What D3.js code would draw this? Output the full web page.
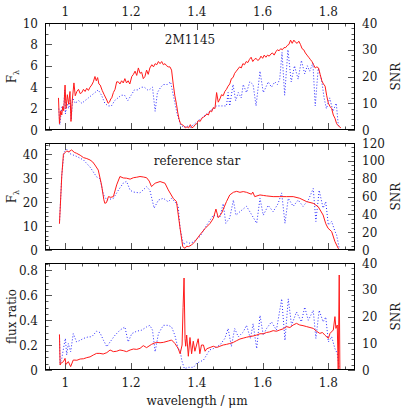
<!DOCTYPE html>
<html>
<head>
<meta charset="utf-8">
<script src="https://cdn.jsdelivr.net/npm/d3@7"></script>
<style>
  body { margin: 0; background: #fff; }
  text { font-family: "DejaVu Serif", serif; font-size: 12px; fill: #1a1a1a; }
</style>
</head>
<body>
<div id="chart"></div>
<script>
// wavelength ticks (micron)
var xMajor = [1, 1.2, 1.4, 1.6, 1.8];

// 2M1145: flux (F_lambda) and SNR
var topFlux = [[0.979,3.0],[0.982,0.6],[0.986,1.8],[0.989,1.4],[0.992,2.2],[0.995,1.8],[0.999,4.2],[1.002,2.0],[1.006,3.3],[1.010,2.4],[1.014,3.6],[1.017,0.8],[1.021,2.8],[1.026,4.4],[1.030,3.2],[1.035,3.6],[1.040,3.8],[1.045,3.4],[1.050,3.5],[1.055,3.8],[1.060,3.6],[1.065,3.9],[1.070,3.7],[1.075,4.0],[1.080,4.2],[1.085,4.5],[1.090,5.0],[1.094,4.6],[1.098,4.9],[1.102,4.3],[1.106,4.2],[1.112,3.7],[1.118,3.3],[1.126,2.8],[1.130,2.5],[1.134,2.6],[1.138,2.9],[1.141,3.0],[1.146,3.5],[1.151,3.8],[1.156,4.5],[1.161,4.5],[1.166,4.3],[1.171,4.6],[1.176,4.4],[1.181,4.8],[1.186,4.4],[1.191,4.6],[1.196,4.3],[1.202,5.0],[1.207,5.2],[1.212,5.5],[1.217,5.1],[1.222,5.8],[1.227,5.3],[1.232,5.4],[1.237,4.8],[1.242,5.0],[1.247,5.6],[1.252,5.2],[1.257,5.8],[1.263,6.1],[1.268,5.9],[1.273,6.2],[1.278,6.1],[1.283,6.4],[1.288,6.2],[1.293,6.4],[1.298,6.1],[1.303,6.2],[1.308,6.0],[1.313,5.9],[1.318,5.9],[1.323,5.6],[1.328,4.3],[1.333,3.2],[1.338,2.4],[1.342,1.6],[1.346,1.0],[1.350,0.6],[1.355,0.5],[1.360,0.4],[1.365,0.2],[1.370,0.3],[1.375,0.2],[1.380,0.5],[1.385,0.2],[1.390,0.3],[1.395,0.5],[1.400,0.6],[1.405,0.9],[1.410,0.8],[1.415,1.1],[1.420,1.2],[1.425,1.3],[1.430,1.5],[1.435,1.4],[1.440,1.8],[1.445,1.7],[1.450,2.1],[1.455,2.0],[1.460,3.5],[1.465,2.6],[1.470,2.9],[1.475,3.3],[1.480,3.2],[1.485,3.6],[1.490,3.8],[1.495,4.1],[1.500,4.3],[1.505,4.8],[1.510,4.9],[1.515,5.3],[1.520,5.5],[1.525,5.7],[1.530,5.9],[1.535,5.8],[1.540,6.2],[1.545,6.1],[1.550,6.4],[1.555,6.3],[1.560,6.6],[1.565,6.8],[1.570,6.4],[1.575,6.6],[1.580,6.7],[1.585,6.5],[1.590,6.6],[1.595,6.9],[1.600,6.7],[1.605,7.0],[1.610,6.8],[1.615,7.0],[1.620,6.9],[1.625,7.1],[1.630,7.2],[1.635,7.0],[1.640,7.3],[1.645,7.5],[1.650,7.4],[1.655,7.6],[1.660,7.5],[1.665,7.7],[1.670,7.7],[1.675,7.9],[1.680,8.0],[1.685,8.4],[1.690,8.1],[1.695,8.4],[1.700,8.2],[1.705,8.1],[1.710,8.3],[1.715,8.0],[1.720,7.6],[1.725,7.5],[1.730,7.2],[1.735,7.0],[1.740,6.8],[1.745,6.6],[1.750,6.4],[1.755,6.1],[1.760,5.8],[1.765,5.9],[1.770,5.8],[1.775,5.2],[1.780,4.6],[1.785,4.3],[1.790,4.1],[1.795,3.2],[1.800,2.5],[1.805,2.2],[1.810,2.0],[1.815,1.4],[1.820,1.1],[1.825,0.6],[1.830,0.4],[1.838,0.2]];
var topSnr = [[0.980,8],[0.983,2],[0.987,6],[0.990,9],[0.995,8],[0.998,15],[1.000,6],[1.005,10],[1.010,8],[1.015,11],[1.018,4],[1.022,12],[1.030,10],[1.040,11],[1.050,10],[1.060,11],[1.070,12],[1.080,13],[1.090,14],[1.100,15],[1.110,13],[1.120,10],[1.130,9],[1.140,9],[1.150,11],[1.160,12],[1.170,13],[1.180,13],[1.190,11],[1.200,13],[1.210,15],[1.220,15],[1.230,16],[1.240,16],[1.250,15],[1.255,15],[1.265,16],[1.273,7],[1.280,14],[1.290,16],[1.298,17],[1.310,17],[1.320,18],[1.330,12],[1.340,6],[1.350,2],[1.360,1],[1.370,1.5],[1.380,1],[1.390,2],[1.400,3],[1.410,4],[1.420,5],[1.430,6],[1.440,7],[1.450,8],[1.460,9],[1.470,9],[1.480,9],[1.490,9],[1.495,14],[1.500,9],[1.510,17],[1.518,11],[1.526,14],[1.535,12],[1.541,17],[1.551,14],[1.561,18],[1.571,17],[1.580,9],[1.592,22],[1.602,14],[1.610,16],[1.617,18],[1.627,16],[1.637,18],[1.645,17],[1.652,19],[1.659,29],[1.667,13],[1.677,30],[1.687,18],[1.697,24],[1.708,19],[1.718,26],[1.728,21],[1.736,24],[1.743,22],[1.753,25],[1.760,9],[1.769,23],[1.779,19],[1.787,12],[1.794,8],[1.804,12],[1.814,7],[1.824,10],[1.830,2],[1.834,1]];

// reference star: flux and SNR
var midFlux = [[0.982,11],[0.989,31],[0.994,40],[1.004,41.4],[1.010,41],[1.019,41.8],[1.027,40.8],[1.034,40.4],[1.045,39.6],[1.055,38.6],[1.065,38.2],[1.075,37.6],[1.083,36.8],[1.090,35.5],[1.100,33.4],[1.110,27.2],[1.117,21],[1.120,19.5],[1.125,19.8],[1.131,22.3],[1.138,22],[1.146,22.3],[1.156,27.2],[1.166,30.7],[1.176,30.1],[1.186,30.0],[1.197,29.6],[1.207,30.2],[1.217,30.4],[1.227,30.7],[1.237,30.5],[1.247,30.2],[1.255,28.8],[1.262,26.5],[1.273,27.9],[1.288,28.6],[1.303,27.9],[1.313,25.1],[1.328,21.6],[1.338,20.2],[1.349,9],[1.357,1.4],[1.364,0.7],[1.369,1.6],[1.374,1.4],[1.384,2.1],[1.394,3.5],[1.409,6.3],[1.425,9],[1.440,11.1],[1.450,13.2],[1.458,17.1],[1.465,13.5],[1.475,15.3],[1.490,20.2],[1.500,23],[1.511,24.1],[1.521,24.5],[1.531,24.1],[1.541,24.4],[1.551,24.1],[1.566,23.3],[1.570,24.2],[1.576,22.3],[1.592,23],[1.602,22.8],[1.612,22.6],[1.632,22.3],[1.652,22.3],[1.673,22.3],[1.693,22.3],[1.713,21.6],[1.734,20.2],[1.754,19.5],[1.769,18.1],[1.784,14.6],[1.792,11],[1.799,9.1],[1.810,7.7],[1.820,3.5],[1.830,0.7],[1.835,0]];
var midSnr = [[0.982,30],[0.989,84],[0.996,110],[1.004,113],[1.014,108],[1.034,105],[1.055,101],[1.075,93],[1.095,82],[1.105,80],[1.116,62],[1.126,56],[1.146,58],[1.161,67],[1.176,75],[1.186,77],[1.197,67],[1.207,65],[1.227,64],[1.247,71],[1.257,67],[1.270,47],[1.283,56],[1.298,58],[1.313,54],[1.323,58],[1.333,54],[1.343,50],[1.349,24],[1.359,6],[1.369,9],[1.379,7.5],[1.389,9],[1.409,15],[1.430,28],[1.450,39],[1.470,37],[1.480,52],[1.488,30],[1.500,36],[1.511,56],[1.519,39],[1.531,43],[1.551,49],[1.561,43],[1.582,30],[1.592,58],[1.602,39],[1.617,50],[1.632,43],[1.647,52],[1.658,64],[1.668,30],[1.678,58],[1.693,49],[1.708,56],[1.723,49],[1.739,56],[1.754,69],[1.762,32],[1.772,67],[1.784,47],[1.792,54],[1.800,28],[1.810,32],[1.820,21],[1.825,17],[1.833,2]];

// flux ratio and its SNR
var botRatio = [[0.982,0.285],[0.984,0.04],[0.986,0.053],[0.994,0.067],[0.999,0.093],[1.002,0.045],[1.009,0.067],[1.016,0.027],[1.024,0.08],[1.035,0.078],[1.045,0.088],[1.055,0.09],[1.065,0.099],[1.075,0.105],[1.085,0.12],[1.095,0.133],[1.105,0.133],[1.115,0.128],[1.126,0.139],[1.136,0.16],[1.146,0.147],[1.156,0.15],[1.166,0.16],[1.176,0.155],[1.186,0.147],[1.197,0.16],[1.207,0.168],[1.217,0.165],[1.227,0.173],[1.237,0.195],[1.247,0.179],[1.262,0.205],[1.270,0.215],[1.278,0.221],[1.288,0.218],[1.298,0.221],[1.313,0.232],[1.323,0.24],[1.333,0.213],[1.343,0.173],[1.349,0.13],[1.355,0.2],[1.358,0.5],[1.361,0.736],[1.364,0.25],[1.366,0.19],[1.369,0.28],[1.374,0.11],[1.379,0.26],[1.384,0.13],[1.389,0.23],[1.394,0.15],[1.399,0.2],[1.404,0.25],[1.409,0.13],[1.414,0.2],[1.420,0.2],[1.425,0.15],[1.430,0.17],[1.440,0.18],[1.450,0.19],[1.460,0.18],[1.470,0.19],[1.480,0.2],[1.490,0.205],[1.500,0.212],[1.511,0.221],[1.521,0.235],[1.531,0.248],[1.541,0.255],[1.551,0.262],[1.561,0.268],[1.571,0.272],[1.582,0.28],[1.592,0.29],[1.602,0.29],[1.612,0.3],[1.622,0.305],[1.632,0.315],[1.642,0.31],[1.652,0.32],[1.663,0.33],[1.673,0.347],[1.683,0.34],[1.693,0.36],[1.703,0.373],[1.713,0.36],[1.723,0.355],[1.734,0.347],[1.744,0.34],[1.754,0.333],[1.764,0.31],[1.774,0.293],[1.782,0.3],[1.789,0.28],[1.800,0.253],[1.805,0.293],[1.815,0.32],[1.820,0.427],[1.823,0.333],[1.827,0.36],[1.830,0],[1.833,0.76],[1.835,0]];
var botSnr = [[0.982,13],[0.984,2.5],[0.989,4.3],[0.996,9.3],[1.000,11.8],[1.004,5.6],[1.009,9.9],[1.016,6.8],[1.024,13.6],[1.034,10.5],[1.045,11.1],[1.055,11.8],[1.070,12.4],[1.080,12.4],[1.095,14.5],[1.105,14],[1.116,11.1],[1.126,8.7],[1.136,10.5],[1.151,13],[1.166,14.9],[1.181,16.1],[1.191,10.5],[1.202,13.6],[1.217,14.5],[1.232,14.9],[1.247,16.1],[1.257,16.7],[1.265,14.9],[1.273,6.8],[1.283,13.6],[1.298,16.7],[1.313,16.7],[1.323,16.1],[1.333,13],[1.343,8],[1.349,7.5],[1.354,3.6],[1.362,0.5],[1.375,1],[1.390,1],[1.399,2.5],[1.420,3.7],[1.439,7.5],[1.450,8],[1.460,8.7],[1.470,9.3],[1.485,11.8],[1.495,15.5],[1.505,8.8],[1.515,15.5],[1.526,12.4],[1.541,14.2],[1.551,16.7],[1.563,11.8],[1.571,17.3],[1.582,8],[1.592,20.4],[1.602,13],[1.612,15.5],[1.627,18],[1.642,14.9],[1.658,26.6],[1.668,11.1],[1.678,26.6],[1.688,16.7],[1.703,21.7],[1.718,18],[1.728,23.5],[1.739,18.6],[1.754,22.3],[1.762,11.8],[1.772,22.3],[1.784,18],[1.792,19.8],[1.800,10.5],[1.810,12.4],[1.820,8],[1.827,6.2],[1.833,0.6]];

var W = 415, H = 415;
var left = 45, right = 355;

var svg = d3.select("#chart").append("svg").attr("width", W).attr("height", H);

var x = d3.scaleLinear().domain([0.938, 1.881]).range([left, right]);

var panels = [
  { top: 23, bottom: 130, yl: [0, 10], yr: [0, 40], lMajor: [0, 2, 4, 6, 8, 10], lMinor: 1,
    rMajor: [0, 10, 20, 30, 40], rMinor: 2, ylabel: "F", sub: true, title: "2M1145", tx: 190, ty: 44,
    flux: topFlux, snr: topSnr, topLabels: true },
  { top: 143, bottom: 250, yl: [0, 44.7], yr: [0, 120], lMajor: [0, 10, 20, 30, 40], lMinor: 2,
    rMajor: [0, 20, 40, 60, 80, 100, 120], rMinor: 5, ylabel: "F", sub: true, title: "reference star", tx: 197, ty: 165,
    flux: midFlux, snr: midSnr },
  { top: 263, bottom: 370, yl: [0, 0.856], yr: [0, 40], lMajor: [0, 0.2, 0.4, 0.6, 0.8], lMinor: 0.05,
    rMajor: [0, 10, 20, 30, 40], rMinor: 2, ylabel: "flux ratio", sub: false,
    flux: botRatio, snr: botSnr, bottomLabels: true }
];

function fmt(v) { return String(+v.toFixed(2)); }

function range(a, b, s) {
  var out = [];
  for (var v = a; v <= b + 1e-9; v += s) out.push(+v.toFixed(4));
  return out;
}

var xMinor = range(0.95, 1.85, 0.05);
var tickColor = "#555";

panels.forEach(function (p) {
  var yL = d3.scaleLinear().domain(p.yl).range([p.bottom, p.top]);
  var yR = d3.scaleLinear().domain(p.yr).range([p.bottom, p.top]);
  var g = svg.append("g");

  // x ticks on bottom and top edges
  xMinor.forEach(function (v) {
    var major = xMajor.some(function (m) { return Math.abs(m - v) < 1e-6; });
    var len = major ? 7 : 3.5;
    var px = Math.round(x(v)) + 0.5;
    g.append("line").attr("x1", px).attr("x2", px).attr("y1", p.bottom).attr("y2", p.bottom - len)
      .attr("stroke", tickColor);
    g.append("line").attr("x1", px).attr("x2", px).attr("y1", p.top).attr("y2", p.top + len)
      .attr("stroke", tickColor);
  });

  // left ticks
  range(p.yl[0], p.yl[1], p.lMinor).forEach(function (v) {
    var major = p.lMajor.some(function (m) { return Math.abs(m - v) < 1e-6; });
    var py = Math.round(yL(v)) + 0.5;
    g.append("line").attr("x1", left).attr("x2", left + (major ? 7 : 3.5)).attr("y1", py).attr("y2", py)
      .attr("stroke", tickColor);
  });
  // right ticks
  range(p.yr[0], p.yr[1], p.rMinor).forEach(function (v) {
    var major = p.rMajor.some(function (m) { return Math.abs(m - v) < 1e-6; });
    var py = Math.round(yR(v)) + 0.5;
    g.append("line").attr("x1", right).attr("x2", right - (major ? 7 : 3.5)).attr("y1", py).attr("y2", py)
      .attr("stroke", tickColor);
  });

  // tick labels
  g.selectAll(".ll").data(p.lMajor).join("text")
    .attr("x", left - 7).attr("y", function (d) { return yL(d) + 4.5; })
    .attr("text-anchor", "end").text(fmt);
  g.selectAll(".rl").data(p.rMajor).join("text")
    .attr("x", right + 7).attr("y", function (d) { return yR(d) + 4.5; })
    .attr("text-anchor", "start").text(fmt);
  if (p.topLabels) {
    g.selectAll(".tl").data(xMajor).join("text")
      .attr("x", function (d) { return x(d); }).attr("y", 16)
      .attr("text-anchor", "middle").text(fmt);
  }
  if (p.bottomLabels) {
    g.selectAll(".bl").data(xMajor).join("text")
      .attr("x", function (d) { return x(d); }).attr("y", 387)
      .attr("text-anchor", "middle").text(fmt);
  }

  // curves
  var lineL = d3.line().x(function (d) { return x(d[0]); }).y(function (d) { return yL(d[1]); });
  var lineR = d3.line().x(function (d) { return x(d[0]); }).y(function (d) { return yR(d[1]); });
  g.append("path").datum(p.snr).attr("d", lineR).attr("fill", "none")
    .attr("stroke", "#2a2aff").attr("stroke-width", 1).attr("stroke-dasharray", "1,2");
  g.append("path").datum(p.flux).attr("d", lineL).attr("fill", "none")
    .attr("stroke", "#ff1a1a").attr("stroke-width", 1);

  // frame
  g.append("rect").attr("x", left + 0.5).attr("y", p.top + 0.5)
    .attr("width", right - left - 1).attr("height", p.bottom - p.top - 1)
    .attr("fill", "none").attr("stroke", "#000");

  // axis titles
  var cy = (p.top + p.bottom) / 2;
  var yt = g.append("text").attr("transform", "translate(16," + cy + ") rotate(-90)")
    .attr("text-anchor", "middle");
  if (p.sub) {
    yt.append("tspan").text("F");
    yt.append("tspan").attr("dy", 3).attr("font-size", "8px").text("λ");
  } else {
    yt.text(p.ylabel);
  }
  g.append("text").attr("transform", "translate(400," + cy + ") rotate(-90)")
    .attr("text-anchor", "middle").text("SNR");

  if (p.title) {
    g.append("text").attr("x", p.tx).attr("y", p.ty).attr("text-anchor", "middle").text(p.title);
  }
});

svg.append("text").attr("x", 197).attr("y", 405).attr("text-anchor", "middle").text("wavelength / μm");
</script>
</body>
</html>
